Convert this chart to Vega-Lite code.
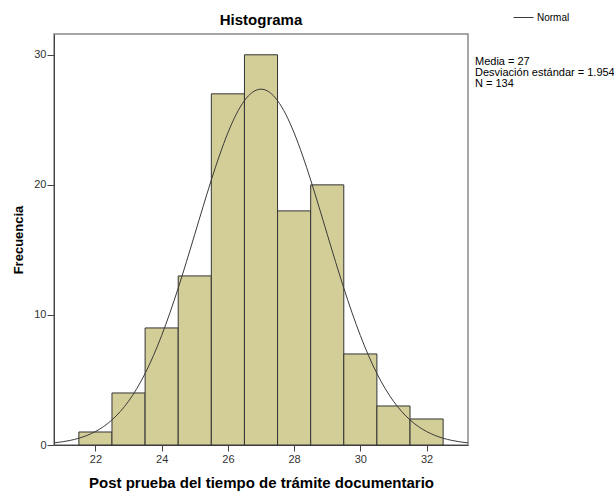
{
  "$schema": "https://vega.github.io/schema/vega-lite/v6.json",
  "width": 414,
  "height": 411,
  "autosize": {"type": "none"},
  "padding": {"left": 54, "top": 34, "right": 146, "bottom": 46},
  "background": "white",
  "title": {"text": "Histograma", "fontSize": 15, "fontWeight": "bold", "font": "Liberation Sans", "color": "#000000", "anchor": "middle", "frame": "group", "offset": -18, "dy": 15, "baseline": "alphabetic"},
  "config": {
    "font": "Liberation Sans",
    "view": {"fill": "#f0f0f0", "stroke": "#8a8a8a", "strokeWidth": 1.5},
    "axis": {"grid": false, "labelFont": "Liberation Sans", "labelFontSize": 11, "labelColor": "#333333", "tickColor": "#444444", "domainColor": "#444444", "titleFont": "Liberation Sans", "titleFontSize": 13, "titleFontWeight": "bold", "titleColor": "#000000"}
  },
  "datasets": {
    "barras": [
      {"lo": 21.5, "hi": 22.5, "frecuencia": 1},
      {"lo": 22.5, "hi": 23.5, "frecuencia": 4},
      {"lo": 23.5, "hi": 24.5, "frecuencia": 9},
      {"lo": 24.5, "hi": 25.5, "frecuencia": 13},
      {"lo": 25.5, "hi": 26.5, "frecuencia": 27},
      {"lo": 26.5, "hi": 27.5, "frecuencia": 30},
      {"lo": 27.5, "hi": 28.5, "frecuencia": 18},
      {"lo": 28.5, "hi": 29.5, "frecuencia": 20},
      {"lo": 29.5, "hi": 30.5, "frecuencia": 7},
      {"lo": 30.5, "hi": 31.5, "frecuencia": 3},
      {"lo": 31.5, "hi": 32.5, "frecuencia": 2}
    ],
    "curva": [
      {"x": 20.75, "densidad": 0.164, "serie": "Normal"},
      {"x": 21.0, "densidad": 0.245, "serie": "Normal"},
      {"x": 21.25, "densidad": 0.360, "serie": "Normal"},
      {"x": 21.5, "densidad": 0.521, "serie": "Normal"},
      {"x": 21.75, "densidad": 0.741, "serie": "Normal"},
      {"x": 22.0, "densidad": 1.036, "serie": "Normal"},
      {"x": 22.25, "densidad": 1.425, "serie": "Normal"},
      {"x": 22.5, "densidad": 1.929, "serie": "Normal"},
      {"x": 22.75, "densidad": 2.570, "serie": "Normal"},
      {"x": 23.0, "densidad": 3.366, "serie": "Normal"},
      {"x": 23.25, "densidad": 4.339, "serie": "Normal"},
      {"x": 23.5, "densidad": 5.500, "serie": "Normal"},
      {"x": 23.75, "densidad": 6.860, "serie": "Normal"},
      {"x": 24.0, "densidad": 8.418, "serie": "Normal"},
      {"x": 24.25, "densidad": 10.162, "serie": "Normal"},
      {"x": 24.5, "densidad": 12.068, "serie": "Normal"},
      {"x": 24.75, "densidad": 14.098, "serie": "Normal"},
      {"x": 25.0, "densidad": 16.203, "serie": "Normal"},
      {"x": 25.25, "densidad": 18.320, "serie": "Normal"},
      {"x": 25.5, "densidad": 20.376, "serie": "Normal"},
      {"x": 25.75, "densidad": 22.296, "serie": "Normal"},
      {"x": 26.0, "densidad": 24.000, "serie": "Normal"},
      {"x": 26.25, "densidad": 25.415, "serie": "Normal"},
      {"x": 26.5, "densidad": 26.477, "serie": "Normal"},
      {"x": 26.75, "densidad": 27.135, "serie": "Normal"},
      {"x": 27.0, "densidad": 27.358, "serie": "Normal"},
      {"x": 27.25, "densidad": 27.135, "serie": "Normal"},
      {"x": 27.5, "densidad": 26.477, "serie": "Normal"},
      {"x": 27.75, "densidad": 25.415, "serie": "Normal"},
      {"x": 28.0, "densidad": 24.000, "serie": "Normal"},
      {"x": 28.25, "densidad": 22.296, "serie": "Normal"},
      {"x": 28.5, "densidad": 20.376, "serie": "Normal"},
      {"x": 28.75, "densidad": 18.320, "serie": "Normal"},
      {"x": 29.0, "densidad": 16.203, "serie": "Normal"},
      {"x": 29.25, "densidad": 14.098, "serie": "Normal"},
      {"x": 29.5, "densidad": 12.068, "serie": "Normal"},
      {"x": 29.75, "densidad": 10.162, "serie": "Normal"},
      {"x": 30.0, "densidad": 8.418, "serie": "Normal"},
      {"x": 30.25, "densidad": 6.860, "serie": "Normal"},
      {"x": 30.5, "densidad": 5.500, "serie": "Normal"},
      {"x": 30.75, "densidad": 4.339, "serie": "Normal"},
      {"x": 31.0, "densidad": 3.366, "serie": "Normal"},
      {"x": 31.25, "densidad": 2.570, "serie": "Normal"},
      {"x": 31.5, "densidad": 1.929, "serie": "Normal"},
      {"x": 31.75, "densidad": 1.425, "serie": "Normal"},
      {"x": 32.0, "densidad": 1.036, "serie": "Normal"},
      {"x": 32.25, "densidad": 0.741, "serie": "Normal"},
      {"x": 32.5, "densidad": 0.521, "serie": "Normal"},
      {"x": 32.75, "densidad": 0.360, "serie": "Normal"},
      {"x": 33.0, "densidad": 0.245, "serie": "Normal"},
      {"x": 33.25, "densidad": 0.164, "serie": "Normal"}
    ],
    "estadisticos": [
      {"stat": "Media = 27"},
      {"stat": "Desviación estándar = 1.954"},
      {"stat": "N = 134"}
    ]
  },
  "layer": [
    {
      "data": {"name": "barras"},
      "mark": {"type": "bar", "fill": "#d3ce97", "stroke": "#333333", "strokeWidth": 1, "orient": "vertical"},
      "encoding": {
        "x": {"field": "lo", "type": "quantitative", "title": "Post prueba del tiempo de trámite documentario",
              "scale": {"domain": [20.9, 33.1], "nice": false, "zero": false},
              "axis": {"values": [22, 24, 26, 28, 30, 32], "tickSize": 6, "labelPadding": 2, "titlePadding": 11, "titleFontSize": 15}},
        "x2": {"field": "hi"},
        "y": {"field": "frecuencia", "type": "quantitative", "title": "Frecuencia",
              "scale": {"domain": [0, 31.6], "nice": false},
              "axis": {"values": [0, 10, 20, 30], "tickSize": 7, "labelPadding": 1, "titlePadding": 8}},
        "y2": {"datum": 0}
      }
    },
    {
      "data": {"name": "curva"},
      "mark": {"type": "line", "clip": true, "interpolate": "monotone", "strokeWidth": 1},
      "encoding": {
        "x": {"field": "x", "type": "quantitative", "title": "Post prueba del tiempo de trámite documentario"},
        "y": {"field": "densidad", "type": "quantitative", "title": "Frecuencia"},
        "stroke": {"field": "serie", "type": "nominal", "scale": {"range": ["#3a3a3a"]},
                   "legend": {"orient": "none", "legendX": 459, "legendY": -27, "title": null, "symbolType": "stroke", "symbolSize": 400, "symbolStrokeWidth": 1, "labelFontSize": 10, "labelColor": "#000000", "labelOffset": 3, "padding": 0}}
      }
    },
    {
      "data": {"name": "estadisticos"},
      "mark": {"type": "point", "opacity": 0},
      "encoding": {
        "shape": {"field": "stat", "type": "nominal",
                  "scale": {"domain": ["Media = 27", "Desviación estándar = 1.954", "N = 134"], "range": ["circle", "circle", "circle"]},
                  "legend": {"orient": "none", "legendX": 410, "legendY": 22, "title": null, "symbolSize": 0, "symbolOpacity": 0, "labelOffset": 0, "labelFontSize": 11, "labelColor": "#000000", "rowPadding": -1, "padding": 0, "labelLimit": 300}}
      }
    }
  ]
}
